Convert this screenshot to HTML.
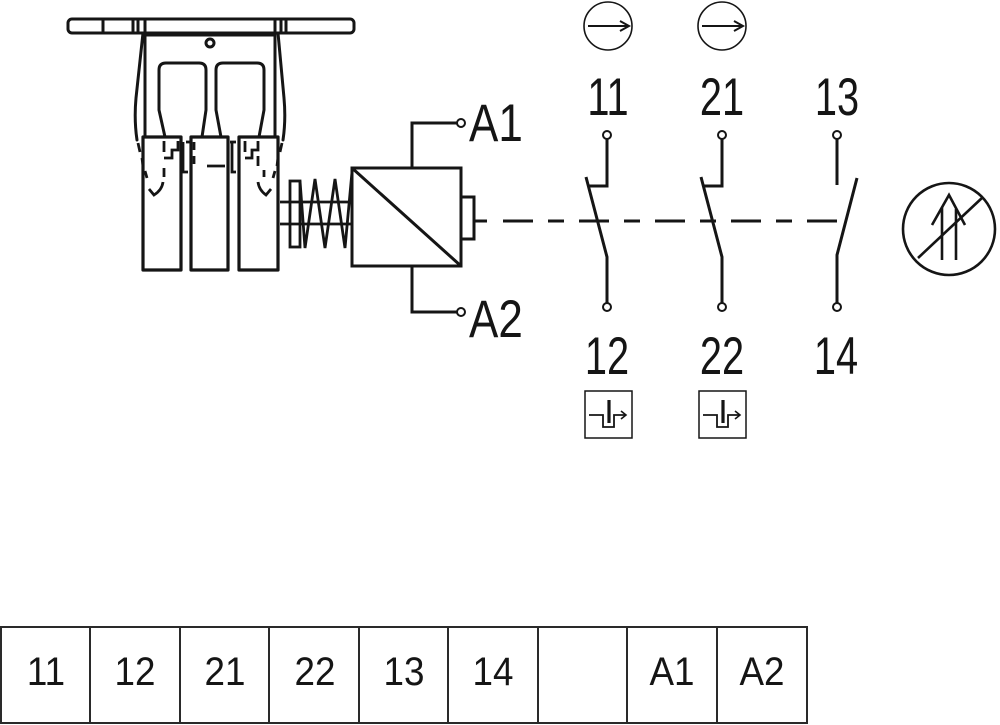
<!DOCTYPE html>
<html>
<head>
<meta charset="utf-8">
<style>
  html,body{margin:0;padding:0;background:#fff;}
  svg{display:block;}
  text{font-family:"Liberation Sans", sans-serif; fill:#151515;}
</style>
</head>
<body>
<svg width="1000" height="725" viewBox="0 0 1000 725" xmlns="http://www.w3.org/2000/svg">
  <rect width="1000" height="725" fill="#fff"/>

  <!-- ===== Left mechanism ===== -->
  <g fill="none" stroke="#151515" stroke-width="3" stroke-linejoin="round" stroke-linecap="round">
    <rect x="68" y="19" width="286" height="14" rx="4"/>
    <line x1="103" y1="19" x2="103" y2="33"/>
    <line x1="133" y1="19" x2="133" y2="33"/>
    <line x1="138" y1="19" x2="138" y2="33"/>
    <line x1="281" y1="19" x2="281" y2="33"/>
    <line x1="286" y1="19" x2="286" y2="33"/>
    <line x1="145" y1="19" x2="145" y2="137"/>
    <line x1="275" y1="19" x2="275" y2="137"/>
    <line x1="145" y1="35" x2="275" y2="35"/>
    <circle cx="210" cy="43" r="4"/>
    <path d="M143 33 L136 98 Q134 120 137 140"/>
    <path d="M278 33 L284 98 Q286 120 283 140"/>
    <path d="M165 137 L159 110 V70 Q159 63 166 63 H199 Q206 63 206 70 V110 L202 137"/>
    <path d="M221 137 L216 110 V70 Q216 63 223 63 H257 Q264 63 264 70 V110 L259 137"/>
    <rect x="143" y="137" width="38" height="133" stroke-width="3.2"/>
    <rect x="191" y="137" width="37" height="133" stroke-width="3.2"/>
    <rect x="239" y="137" width="39" height="133" stroke-width="3.2"/>
  </g>
  <g fill="none" stroke="#151515" stroke-width="2.8" stroke-linecap="butt">
    <path d="M164 141 V152"/>
    <path d="M164 158 H172 V150 H178 V141"/>
    <path d="M183 142 V172 H188"/>
    <path d="M186 142 H190"/>
    <path d="M194 142 V150 M194 156 V164"/>
    <path d="M207 166 H225"/>
    <path d="M232 142 V172 H236"/>
    <path d="M230 142 H236"/>
    <path d="M245 141 V152"/>
    <path d="M245 158 H252 V150 H258 V141"/>
    <path d="M258 156 V166"/>
    <path d="M164 168 V177"/>
    <path d="M163 182 Q162 190 154 195 L149 189"/>
    <path d="M138 143 L140 152 M142 158 L143 166 M145 171 L147 178"/>
    <path d="M282 143 L280 152 M278 158 L277 166 M275 171 L273 178"/>
    <path d="M258 182 Q259 190 266 195 L271 189"/>
    <path d="M264 170 V177"/>
  </g>

  <!-- ===== Spring / plunger ===== -->
  <g fill="none" stroke="#151515" stroke-width="2.8" stroke-linejoin="miter">
    <line x1="280" y1="202" x2="352" y2="202"/>
    <line x1="280" y1="224" x2="352" y2="224"/>
    <rect x="290" y="181" width="10" height="66"/>
    <polyline points="300,181 305,248 315,179 325,248 335,179 345,248 352,172"/>
  </g>

  <!-- ===== Coil ===== -->
  <g fill="none" stroke="#151515" stroke-width="3">
    <rect x="352" y="168" width="109" height="98"/>
    <line x1="352" y1="168" x2="461" y2="266"/>
    <rect x="461" y="197" width="13" height="42"/>
    <polyline points="412,168 412,123 457,123"/>
    <polyline points="412,266 412,312 457,312"/>
  </g>
  <g fill="#fff" stroke="#151515" stroke-width="2">
    <circle cx="461" cy="123" r="4"/>
    <circle cx="461" cy="312" r="4"/>
  </g>
  <text transform="translate(469,141) scale(0.83,1)" font-size="53">A1</text>
  <text transform="translate(469,337) scale(0.83,1)" font-size="53">A2</text>

  <!-- ===== Dashed mechanical link ===== -->
  <g stroke="#151515" stroke-width="3" fill="none">
    <line x1="474" y1="221" x2="487" y2="221"/>
    <line x1="503" y1="221" x2="838" y2="221" stroke-dasharray="30 15 16 15"/>
  </g>

  <!-- ===== Contacts ===== -->
  <g fill="none" stroke="#151515" stroke-width="3" stroke-linejoin="miter">
    <polyline points="607,139 607,186 589,186"/>
    <polyline points="586,177 607,257 607,303"/>
    <polyline points="722,139 722,186 704,186"/>
    <polyline points="701,177 722,257 722,303"/>
    <line x1="837" y1="139" x2="837" y2="185"/>
    <polyline points="857,178 837,255 837,303"/>
  </g>
  <g fill="#fff" stroke="#151515" stroke-width="2">
    <circle cx="607" cy="135" r="4"/>
    <circle cx="722" cy="135" r="4"/>
    <circle cx="837" cy="135" r="4"/>
    <circle cx="607" cy="307" r="4"/>
    <circle cx="722" cy="307" r="4"/>
    <circle cx="837" cy="307" r="4"/>
  </g>

  <g font-size="53" text-anchor="middle">
    <text transform="translate(608,115) scale(0.75,1)">11</text>
    <text transform="translate(722,115) scale(0.75,1)">21</text>
    <text transform="translate(837,115) scale(0.75,1)">13</text>
    <text transform="translate(607,374) scale(0.75,1)">12</text>
    <text transform="translate(722,374) scale(0.75,1)">22</text>
    <text transform="translate(836,374) scale(0.75,1)">14</text>
  </g>

  <g fill="none" stroke="#151515" stroke-width="1.6">
    <circle cx="608" cy="26" r="24"/>
    <circle cx="722" cy="26" r="24"/>
  </g>
  <g fill="none" stroke="#151515" stroke-width="2">
    <line x1="588" y1="26" x2="629" y2="26"/>
    <polyline points="620,21 629,26 620,31"/>
    <line x1="702" y1="26" x2="743" y2="26"/>
    <polyline points="734,21 743,26 734,31"/>
  </g>

  <g fill="none" stroke="#151515">
    <rect x="585" y="391" width="47" height="47" stroke-width="1.5"/>
    <polyline points="589,415 603,415 603,427 614,427 614,415 626,415" stroke-width="1.8"/>
    <polyline points="621,411 626,415 621,419" stroke-width="1.6"/>
    <line x1="609" y1="400" x2="609" y2="423" stroke-width="3.2"/>
    <rect x="699" y="391" width="47" height="47" stroke-width="1.5"/>
    <polyline points="703,415 717,415 717,427 728,427 728,415 740,415" stroke-width="1.8"/>
    <polyline points="735,411 740,415 735,419" stroke-width="1.6"/>
    <line x1="723" y1="400" x2="723" y2="423" stroke-width="3.2"/>
  </g>

  <g fill="none" stroke="#151515" stroke-width="2.6">
    <circle cx="949" cy="229" r="46"/>
    <line x1="918" y1="258" x2="983" y2="197"/>
    <polyline points="932,225 949,195 965,225"/>
    <line x1="942" y1="207" x2="942" y2="260"/>
    <line x1="956" y1="209" x2="956" y2="260"/>
  </g>

  <!-- ===== Terminal table ===== -->
  <g fill="none" stroke="#2a2a2a" stroke-width="2">
    <rect x="1" y="627" width="806" height="96"/>
    <line x1="90" y1="627" x2="90" y2="723"/>
    <line x1="180" y1="627" x2="180" y2="723"/>
    <line x1="269" y1="627" x2="269" y2="723"/>
    <line x1="359" y1="627" x2="359" y2="723"/>
    <line x1="448" y1="627" x2="448" y2="723"/>
    <line x1="538" y1="627" x2="538" y2="723"/>
    <line x1="627" y1="627" x2="627" y2="723"/>
    <line x1="717" y1="627" x2="717" y2="723"/>
  </g>
  <g font-size="40" text-anchor="middle">
    <text transform="translate(46,685) scale(0.92,1)">11</text>
    <text transform="translate(135,685) scale(0.92,1)">12</text>
    <text transform="translate(225,685) scale(0.92,1)">21</text>
    <text transform="translate(315,685) scale(0.92,1)">22</text>
    <text transform="translate(404,685) scale(0.92,1)">13</text>
    <text transform="translate(493,685) scale(0.92,1)">14</text>
    <text transform="translate(672,685) scale(0.92,1)">A1</text>
    <text transform="translate(762,685) scale(0.92,1)">A2</text>
  </g>
</svg>
</body>
</html>
